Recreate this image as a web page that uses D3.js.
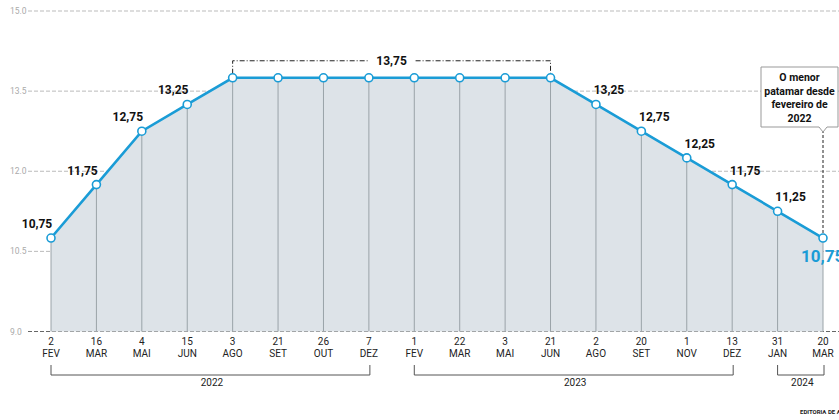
<!DOCTYPE html>
<html>
<head>
<meta charset="utf-8">
<script src="https://cdn.jsdelivr.net/npm/d3@7"></script>
<style>
  body { margin: 0; background: #fff; }
  svg { font-family: "Liberation Sans Narrow", "Roboto", sans-serif; }
</style>
</head>
<body>
<div id="d3"></div>
<script>
// data
const days = ["2", "16", "4", "15", "3", "21", "26", "7", "1", "22", "3", "21", "2", "20", "1", "13", "31", "20"];
const months = ["FEV", "MAR", "MAI", "JUN", "AGO", "SET", "OUT", "DEZ", "FEV", "MAR", "MAI", "JUN", "AGO", "SET", "NOV", "DEZ", "JAN", "MAR"];
const selic = [10.75, 11.75, 12.75, 13.25, 13.75, 13.75, 13.75, 13.75, 13.75, 13.75, 13.75, 13.75, 13.25, 12.75, 12.25, 11.75, 11.25, 10.75];
const yTicks = [9.0, 10.5, 12.0, 13.5, 15.0];
const years = [
  { label: "2022", from: 0, to: 7 },
  { label: "2023", from: 8, to: 15 },
  { label: "2024", from: 16, to: 17 }
];
const plateau = { label: "13,75", from: 4, to: 11 };
const note = ["O menor", "patamar desde", "fevereiro de", "2022"];

const W = 839, H = 420;
const blue = "#1a9cd6";

const svg = d3
  .select("#d3")
  .append("svg")
  .attr("width", W)
  .attr("height", H);

const data = selic.map((v, i) => ({ i, v, day: days[i], month: months[i] }));

const x = d3.scalePoint().domain(d3.range(selic.length)).range([51, 823]);
const y = d3.scaleLinear().domain([9, 15]).range([331.5, 11]);

const fmt = (v) => d3.format(".2f")(v).replace(".", ",");

// grid lines
svg
  .append("g")
  .selectAll("line")
  .data(yTicks)
  .join("line")
  .attr("x1", 28)
  .attr("x2", W)
  .attr("y1", (d) => y(d))
  .attr("y2", (d) => y(d))
  .attr("stroke", (d) => (d === 9 ? "#666" : "#aaa"))
  .attr("stroke-width", (d) => (d === 9 ? 1.2 : 0.8))
  .attr("stroke-dasharray", "4,2");

svg
  .append("g")
  .selectAll("text")
  .data(yTicks)
  .join("text")
  .attr("x", 10)
  .attr("y", (d) => y(d) + 3)
  .attr("font-size", 8.5)
  .attr("fill", "#aaa")
  .text((d) => d.toFixed(1));

// area
const area = d3
  .area()
  .x((d) => x(d.i))
  .y0(y(9))
  .y1((d) => y(d.v));
svg.append("path").datum(data).attr("d", area).attr("fill", "#dde3e8");

// drop lines
svg
  .append("g")
  .selectAll("line")
  .data(data)
  .join("line")
  .attr("x1", (d) => x(d.i))
  .attr("x2", (d) => x(d.i))
  .attr("y1", (d) => y(d.v))
  .attr("y2", y(9))
  .attr("stroke", "#9aa3a8")
  .attr("stroke-width", 1);

// line
const line = d3
  .line()
  .x((d) => x(d.i))
  .y((d) => y(d.v));
svg
  .append("path")
  .datum(data)
  .attr("d", line)
  .attr("fill", "none")
  .attr("stroke", blue)
  .attr("stroke-width", 2.6);

// plateau bracket
const py = y(13.75) - 17;
const px0 = x(plateau.from), px1 = x(plateau.to);
const pmid = (px0 + px1) / 2;
svg
  .append("path")
  .attr("d", `M${px0},${y(13.75) - 4}V${py}H${pmid - 24}M${pmid + 24},${py}H${px1}V${y(13.75) - 4}`)
  .attr("fill", "none")
  .attr("stroke", "#222")
  .attr("stroke-width", 1)
  .attr("stroke-dasharray", "5,2,1,2");
svg
  .append("text")
  .attr("x", pmid)
  .attr("y", py + 4)
  .attr("text-anchor", "middle")
  .attr("font-size", 12)
  .attr("font-weight", "bold")
  .attr("fill", "#111")
  .text(plateau.label);

// annotation note dashed line
const last = data[data.length - 1];
svg
  .append("line")
  .attr("x1", x(last.i))
  .attr("x2", x(last.i))
  .attr("y1", 130)
  .attr("y2", y(last.v) - 4)
  .attr("stroke", "#222")
  .attr("stroke-dasharray", "3,2");

// note box
const bx0 = 761, bx1 = 838, by0 = 67, by1 = 127;
const tx = x(last.i);
svg
  .append("path")
  .attr("d", `M${bx0},${by0}H${bx1}V${by1}H${tx + 4}L${tx},${by1 + 5}L${tx - 4},${by1}H${bx0}Z`)
  .attr("fill", "#fff")
  .attr("stroke", "#999")
  .attr("stroke-width", 1);
svg
  .append("g")
  .selectAll("text")
  .data(note)
  .join("text")
  .attr("x", (bx0 + bx1) / 2)
  .attr("y", (d, i) => 81 + i * 13.5)
  .attr("text-anchor", "middle")
  .attr("font-size", 10.5)
  .attr("font-weight", "bold")
  .attr("fill", "#111")
  .text((d) => d);

// points
svg
  .append("g")
  .selectAll("circle")
  .data(data)
  .join("circle")
  .attr("cx", (d) => x(d.i))
  .attr("cy", (d) => y(d.v))
  .attr("r", 4)
  .attr("fill", "#fff")
  .attr("stroke", blue)
  .attr("stroke-width", 1.6);

// value labels
const labelled = data.filter((d) => d.i < plateau.from || (d.i > plateau.to && d.i < data.length - 1));
svg
  .append("g")
  .selectAll("text")
  .data(labelled)
  .join("text")
  .attr("x", (d) => x(d.i) + (d.i < plateau.from ? -14 : 13))
  .attr("y", (d) => y(d.v) - 10)
  .attr("text-anchor", "middle")
  .attr("font-size", 12)
  .attr("font-weight", "bold")
  .attr("fill", "#111")
  .text((d) => fmt(d.v));

svg
  .append("text")
  .attr("x", 801)
  .attr("y", y(last.v) + 24)
  .attr("font-size", 17)
  .attr("font-weight", "bold")
  .attr("fill", blue)
  .text(fmt(last.v));

// x axis labels
const xl = svg.append("g").selectAll("g").data(data).join("g");
xl.append("text")
  .attr("x", (d) => x(d.i))
  .attr("y", 345)
  .attr("text-anchor", "middle")
  .attr("font-size", 10)
  .attr("fill", "#222")
  .text((d) => d.day);
xl.append("text")
  .attr("x", (d) => x(d.i))
  .attr("y", 357)
  .attr("text-anchor", "middle")
  .attr("font-size", 10)
  .attr("fill", "#222")
  .text((d) => d.month);

// year brackets
const yb = svg.append("g").selectAll("g").data(years).join("g");
yb.append("path")
  .attr("d", (d) => `M${x(d.from)},365V375H${x(d.to) + 1}V365`)
  .attr("fill", "none")
  .attr("stroke", "#555")
  .attr("stroke-width", 1);
yb.append("text")
  .attr("x", (d) => (x(d.from) + x(d.to)) / 2 + 2)
  .attr("y", 386)
  .attr("text-anchor", "middle")
  .attr("font-size", 10)
  .attr("fill", "#222")
  .text((d) => d.label);

// credit
svg
  .append("text")
  .attr("x", 800)
  .attr("y", 414)
  .attr("font-size", 6)
  .attr("font-weight", "bold")
  .attr("fill", "#222")
  .text("EDITORIA DE ARTE");
</script>
</body>
</html>
